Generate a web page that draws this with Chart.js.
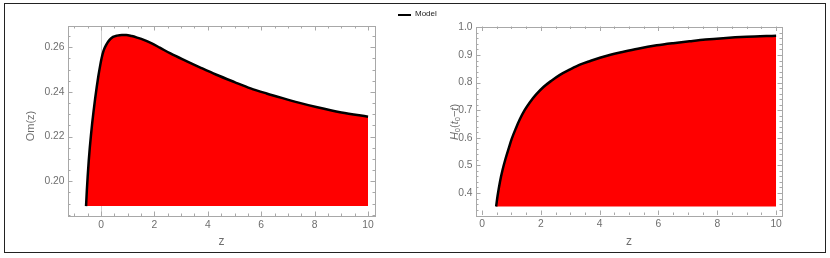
<!DOCTYPE html>
<html>
<head>
<meta charset="utf-8">
<script src="https://cdn.jsdelivr.net/npm/chart.js@4/dist/chart.umd.min.js"></script>
<style>
  html, body { margin: 0; padding: 0; background: #fff; }
  body { width: 830px; height: 258px; position: relative; overflow: hidden; font-family: "Liberation Sans", Arial, sans-serif; }
  #box { position: absolute; left: 4px; top: 3px; width: 822px; height: 250px; box-sizing: border-box; border: 1px solid #222; }
  .plot { position: absolute; top: 0; width: 415px; height: 258px; }
  #left { left: 0; }
  #right { left: 415px; }
  #legend { position: absolute; left: 398px; top: 9px; height: 10px; font-size: 8px; color: #222; white-space: nowrap; }
  #legend .swatch { position: absolute; left: 0; top: 4.5px; width: 13px; height: 2px; background: #000; }
  #legend .label { position: absolute; left: 17px; top: 0; line-height: 10px; }
</style>
</head>
<body>
<div id="box"></div>
<div class="plot" id="left"><canvas id="omChart" width="415" height="258"></canvas></div>
<div class="plot" id="right"><canvas id="ageChart" width="415" height="258"></canvas></div>
<div id="legend"><span class="swatch"></span><span class="label">Model</span></div>

<script>
// left panel: Om(z)
const omZ    = [-0.56, -0.53, -0.50, -0.46, -0.42, -0.37, -0.33, -0.28, -0.22, -0.16, -0.10, -0.04, 0.02, 0.10, 0.20, 0.32, 0.45, 0.60, 0.78, 0.95, 1.15, 1.35, 1.6, 1.9, 2.2, 2.6, 3.1, 3.7, 4.3, 5.0, 5.6, 6.2, 6.8, 7.4, 8.1, 9.0, 10];
const omVals = [0.1889, 0.1960, 0.2020, 0.2090, 0.2150, 0.2213, 0.2260, 0.2312, 0.2370, 0.2422, 0.2470, 0.2512, 0.2550, 0.2586, 0.2612, 0.2633, 0.2646, 0.2652, 0.2655, 0.2655, 0.2650, 0.2643, 0.2633, 0.2617, 0.2598, 0.2572, 0.2543, 0.2510, 0.2478, 0.2444, 0.2416, 0.2393, 0.2372, 0.2352, 0.2331, 0.2308, 0.2289];
const omBase = 0.1889;
const omXTicks = [0, 2, 4, 6, 8, 10];
const omYTicks = [0.20, 0.22, 0.24, 0.26];

// right panel: H0(t0 - t)
const ageZ    = [0.48, 0.53, 0.61, 0.70, 0.80, 0.90, 1.01, 1.15, 1.29, 1.45, 1.63, 1.85, 2.09, 2.35, 2.65, 3.0, 3.33, 3.7, 4.01, 4.4, 4.81, 5.3, 5.94, 6.5, 7.07, 7.6, 8.2, 9.0, 10];
const ageVals = [0.351, 0.390, 0.440, 0.484, 0.524, 0.559, 0.596, 0.634, 0.668, 0.700, 0.729, 0.758, 0.784, 0.806, 0.828, 0.848, 0.865, 0.879, 0.890, 0.902, 0.912, 0.923, 0.935, 0.943, 0.950, 0.956, 0.961, 0.966, 0.970];
const ageBase = 0.351;
const ageXTicks = [0, 2, 4, 6, 8, 10];
const ageYTicks = [0.4, 0.5, 0.6, 0.7, 0.8, 0.9, 1.0];

const tickColor = '#6e6e6e';
const frameColor = '#a8a8a8';
const fontFamily = '"Liberation Sans", Arial, sans-serif';

function toPoints(xs, ys) {
  return xs.map((x, i) => ({ x: x, y: ys[i] }));
}

// Mathematica-like frame: ticks point inward on all four sides
const framePlugin = {
  id: 'frame',
  beforeDatasetsDraw(chart, args, opts) {
    if (!opts.zeroLine) return;
    const a = chart.chartArea, ctx = chart.ctx;
    const px = chart.scales.x.getPixelForValue(0);
    ctx.save();
    ctx.strokeStyle = '#cfcfcf';
    ctx.lineWidth = 1;
    ctx.beginPath();
    ctx.moveTo(Math.round(px) + 0.5, a.top);
    ctx.lineTo(Math.round(px) + 0.5, a.bottom);
    ctx.stroke();
    ctx.restore();
  },
  afterDraw(chart, args, opts) {
    const a = chart.chartArea, ctx = chart.ctx;
    const xs = chart.scales.x, ys = chart.scales.y;
    ctx.save();
    ctx.strokeStyle = frameColor;
    ctx.lineWidth = 1;
    ctx.strokeRect(Math.round(a.left) + 0.5, Math.round(a.top) + 0.5,
                   Math.round(a.right - a.left), Math.round(a.bottom - a.top));

    function ticksAlong(scale, step, majorStep, horizontal) {
      const start = Math.ceil(scale.min / step - 1e-6);
      const end = Math.floor(scale.max / step + 1e-6);
      for (let k = start; k <= end; k++) {
        const v = k * step;
        const major = Math.abs(v / majorStep - Math.round(v / majorStep)) < 1e-6;
        const len = major ? 4.5 : 2.5;
        const p = Math.round(scale.getPixelForValue(v)) + 0.5;
        ctx.beginPath();
        if (horizontal) {
          ctx.moveTo(p, a.bottom); ctx.lineTo(p, a.bottom - len);
          ctx.moveTo(p, a.top); ctx.lineTo(p, a.top + len);
        } else {
          ctx.moveTo(a.left, p); ctx.lineTo(a.left + len, p);
          ctx.moveTo(a.right, p); ctx.lineTo(a.right - len, p);
        }
        ctx.stroke();
      }
    }
    ticksAlong(xs, opts.xMinor, opts.xMajor, true);
    ticksAlong(ys, opts.yMinor, opts.yMajor, false);

    // axis titles
    ctx.fillStyle = tickColor;
    ctx.textAlign = 'center';
    ctx.textBaseline = 'middle';
    ctx.font = '12px ' + fontFamily;
    ctx.fillText(opts.xTitle, (a.left + a.right) / 2, opts.xTitleY);

    ctx.translate(opts.yTitleX, opts.yTitleY);
    ctx.rotate(-Math.PI / 2);
    const parts = opts.yTitle;
    let total = 0;
    parts.forEach(p => {
      ctx.font = (p.italic ? 'italic ' : '') + (p.sub ? 7.5 : 11) + 'px ' + fontFamily;
      p.w = ctx.measureText(p.t).width;
      total += p.w;
    });
    let cx = -total / 2;
    ctx.textAlign = 'left';
    ctx.textBaseline = 'alphabetic';
    parts.forEach(p => {
      ctx.font = (p.italic ? 'italic ' : '') + (p.sub ? 7.5 : 11) + 'px ' + fontFamily;
      ctx.fillText(p.t, cx, p.sub ? 2 : 0);
      cx += p.w;
    });
    ctx.restore();
  }
};

function makePanel(canvasId, xs, ys, base, xTicks, yTicks, cfg) {
  return new Chart(document.getElementById(canvasId), {
    type: 'line',
    data: {
      datasets: [{
        label: 'Model',
        data: toPoints(xs, ys),
        borderColor: '#000',
        borderWidth: 2.5,
        backgroundColor: '#ff0000',
        fill: { value: base },
        pointRadius: 0,
        cubicInterpolationMode: 'monotone'
      }]
    },
    options: {
      responsive: false,
      animation: false,
      events: [],
      layout: { padding: { left: 0, top: cfg.top, right: cfg.right, bottom: 0 } },
      scales: {
        x: {
          type: 'linear',
          min: cfg.xMin,
          max: cfg.xMax,
          afterBuildTicks: (s) => { s.ticks = xTicks.map(v => ({ value: v })); },
          afterFit: (s) => { s.height = cfg.xHeight; },
          grid: { display: false, drawTicks: false },
          border: { display: false },
          ticks: { color: tickColor, font: { size: 10.3, family: fontFamily }, maxRotation: 0, padding: 3 }
        },
        y: {
          type: 'linear',
          min: cfg.yMin,
          max: cfg.yMax,
          afterBuildTicks: (s) => { s.ticks = yTicks.map(v => ({ value: v })); },
          afterFit: (s) => { s.width = cfg.yWidth; },
          grid: { display: false, drawTicks: false },
          border: { display: false },
          ticks: {
            color: tickColor, font: { size: 10.3, family: fontFamily }, padding: 3.5,
            callback: (v) => v.toFixed(cfg.decimals)
          }
        }
      },
      plugins: {
        legend: { display: false },
        tooltip: { enabled: false },
        frame: cfg.frame
      }
    },
    plugins: [framePlugin]
  });
}

makePanel('omChart', omZ, omVals, omBase, omXTicks, omYTicks, {
  top: 26, right: 40, xHeight: 42, yWidth: 68,
  xMin: -1.236, xMax: 10.26, yMin: 0.18446, yMax: 0.2695, decimals: 2,
  frame: {
    zeroLine: true, xMinor: 0.5, xMajor: 2, yMinor: 0.005, yMajor: 0.02,
    xTitle: 'z', xTitleY: 242,
    yTitleX: 33.5, yTitleY: 126,
    yTitle: [{ t: 'Om(z)' }]
  }
});

makePanel('ageChart', ageZ, ageVals, ageBase, ageXTicks, ageYTicks, {
  top: 26.5, right: 48, xHeight: 43, yWidth: 61,
  xMin: -0.204, xMax: 10.2, yMin: 0.3203, yMax: 1.0033, decimals: 1,
  frame: {
    zeroLine: false, xMinor: 0.5, xMajor: 2, yMinor: 0.02, yMajor: 0.1,
    xTitle: 'z', xTitleY: 242,
    yTitleX: 43, yTitleY: 122,
    yTitle: [
      { t: 'H', italic: true }, { t: '0', sub: true }, { t: '(' },
      { t: 't', italic: true }, { t: '0', sub: true }, { t: '\u2212' },
      { t: 't', italic: true }, { t: ')' }
    ]
  }
});
</script>
</body>
</html>
